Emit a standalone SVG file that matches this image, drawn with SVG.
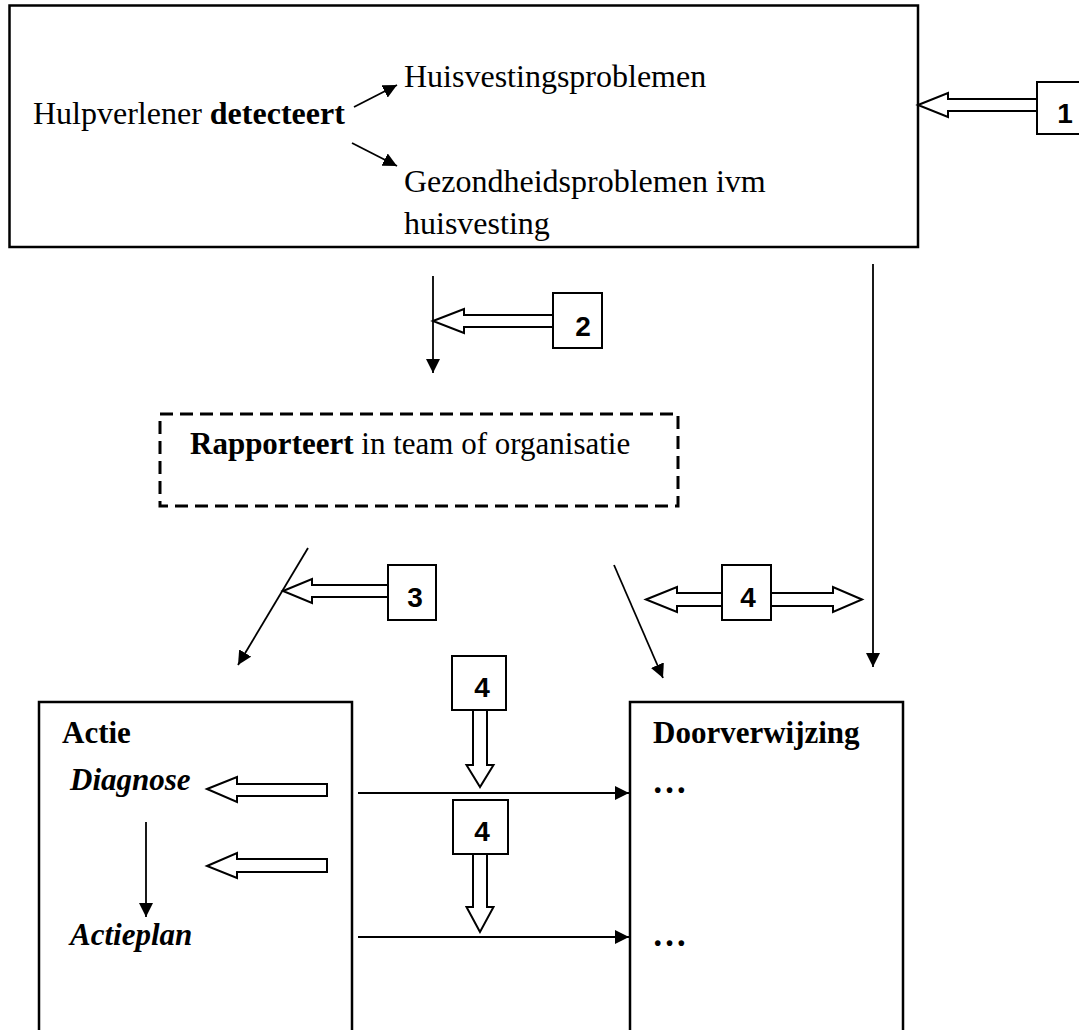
<svg xmlns="http://www.w3.org/2000/svg" width="1079" height="1030" viewBox="0 0 1079 1030">
<style>
.box{fill:#fff;stroke:#000;stroke-width:2.5}
.nbox{fill:#fff;stroke:#000;stroke-width:2}
.dash{fill:none;stroke:#000;stroke-width:3;stroke-dasharray:13 7}
.ln{fill:none;stroke:#000;stroke-width:1.8}
.hol{fill:#fff;stroke:#000;stroke-width:2;stroke-linejoin:miter}
.t{font-family:"Liberation Serif","Times New Roman",serif;font-size:31px;fill:#000}
.tt{font-size:32px}
.b{font-weight:bold}
.bi{font-weight:bold;font-style:italic}
.el{font-size:35px}
.num{font-family:"Liberation Sans",Arial,sans-serif;font-weight:bold;font-size:28px;fill:#000;text-anchor:middle}
</style>
<defs>
<marker id="ah" viewBox="0 0 14 14" refX="14" refY="7" markerWidth="14" markerHeight="14" markerUnits="userSpaceOnUse" orient="auto">
<path d="M0,0 L14,7 L0,14 z" fill="#000"/>
</marker>
</defs>

<g id="detect">
<rect class="box" x="9.5" y="5.5" width="908.5" height="241.5"/>
<text class="t tt" x="33" y="124">Hulpverlener <tspan class="b">detecteert</tspan></text>
<text class="t tt" x="404" y="87">Huisvestingsproblemen</text>
<text class="t tt" x="404" y="192">Gezondheidsproblemen ivm</text>
<text class="t tt" x="404" y="234">huisvesting</text>
</g>

<g id="n1">
<rect class="nbox" x="1037" y="82" width="60" height="52"/>
<text class="num" x="1065" y="123">1</text>
</g>

<g id="n2">
<rect class="nbox" x="553" y="293" width="49" height="55"/>
<text class="num" x="583" y="336">2</text>
</g>

<g id="rapporteert">
<rect class="dash" x="160" y="414" width="518" height="92"/>
<text class="t" x="190" y="454"><tspan class="b">Rapporteert</tspan>  in team of organisatie</text>
</g>

<g id="n3">
<rect class="nbox" x="388" y="565" width="48" height="55"/>
<text class="num" x="415" y="607">3</text>
</g>

<g id="n4a">
<rect class="nbox" x="722" y="565" width="49" height="55"/>
<text class="num" x="748" y="607">4</text>
</g>

<g id="n4b">
<rect class="nbox" x="452" y="656" width="54" height="54"/>
<text class="num" x="482" y="697">4</text>
</g>

<g id="n4c">
<rect class="nbox" x="453" y="800" width="55" height="54"/>
<text class="num" x="482" y="841">4</text>
</g>

<g id="actie">
<rect class="box" x="39" y="702" width="313" height="340"/>
<text class="t b" x="62" y="743">Actie</text>
<text class="t bi" x="70" y="790">Diagnose</text>
<text class="t bi" x="70" y="945">Actieplan</text>
</g>

<g id="doorverwijzing">
<rect class="box" x="630" y="702" width="273" height="340"/>
<text class="t b" x="653" y="743">Doorverwijzing</text>
<text class="t b el" x="652" y="793">…</text>
<text class="t b el" x="652" y="946">…</text>
</g>

<g id="connectors">
<line class="ln" x1="354" y1="107" x2="397" y2="85" marker-end="url(#ah)"/>
<line class="ln" x1="352" y1="143" x2="397" y2="166" marker-end="url(#ah)"/>
<line class="ln" x1="433" y1="276" x2="433" y2="373" marker-end="url(#ah)"/>
<line class="ln" x1="873" y1="264" x2="873" y2="667" marker-end="url(#ah)"/>
<line class="ln" x1="308" y1="548" x2="238" y2="665" marker-end="url(#ah)"/>
<line class="ln" x1="614" y1="565" x2="663" y2="678" marker-end="url(#ah)"/>
<line class="ln" x1="358" y1="793" x2="629" y2="793" marker-end="url(#ah)"/>
<line class="ln" x1="358" y1="937" x2="629" y2="937" marker-end="url(#ah)"/>
<line class="ln" x1="146" y1="822" x2="146" y2="917" marker-end="url(#ah)"/>

<polygon class="hol" points="918,105 948,93 948,99 1037,99 1037,111 948,111 948,117"/>
<polygon class="hol" points="433,321 464,309 464,315 553,315 553,327 464,327 464,333"/>
<polygon class="hol" points="283,591 312,579 312,585 388,585 388,597 312,597 312,603"/>
<polygon class="hol" points="646,599.5 677,587 677,593 722,593 722,606 677,606 677,612"/>
<polygon class="hol" points="862,599.5 833,587 833,593 771,593 771,606 833,606 833,612"/>
<polygon class="hol" points="480,787 466.5,765 473,765 473,710 487,710 487,765 493.5,765"/>
<polygon class="hol" points="480,932 466.5,907 473,907 473,854 487,854 487,907 493.5,907"/>
<polygon class="hol" points="207,789 237,777 237,784 327,784 327,796 237,796 237,802"/>
<polygon class="hol" points="207,866 237,853 237,859 327,859 327,872 237,872 237,878"/>
</g>
</svg>
